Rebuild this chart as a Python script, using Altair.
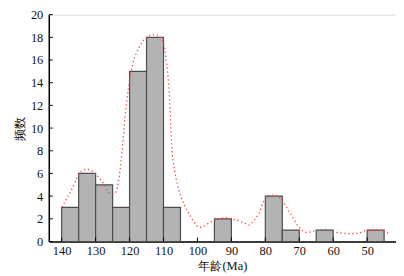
import altair as alt
import pandas as pd

# Histogram bins (Ma) and counts
bin_start = [140, 135, 130, 125, 120, 115, 110, 95, 80, 75, 65, 50]
bin_end = [135, 130, 125, 120, 115, 110, 105, 90, 75, 70, 60, 45]
counts = [3, 6, 5, 3, 15, 18, 3, 2, 4, 1, 1, 1]

# Smoothed curve
curve_x = [140, 138.5, 136.7, 135, 133.5, 132.3, 131, 129.8, 127.4, 125.5, 124.5, 123.3,
           122.2, 121.3, 120.3, 119.1, 117.0, 115.0, 112.8, 110.5, 109.3, 108.3, 107.6,
           106.7, 105.9, 104.4, 102.0, 100.5, 99.5, 98.1, 96.5, 94.6, 91.7, 88.8, 85.8,
           84.9, 83.5, 81.9, 80.5, 78.5, 77.0, 75.1, 72.6, 70.2, 67.8, 65.3, 62.4, 59.0,
           55.5, 52.6, 50.6, 48.8, 46.5, 45.3, 43.8]
curve_y = [3.0, 3.8, 4.8, 5.9, 6.3, 6.35, 6.2, 5.9, 5.0, 4.2, 4.2, 5.2,
           8.0, 11.0, 13.6, 15.6, 17.2, 18.0, 18.25, 17.9, 16.2, 13.0, 8.5,
           6.2, 5.0, 3.6, 2.2, 1.5, 1.25, 1.35, 1.65, 1.9, 2.1, 1.9, 1.6,
           1.45, 1.8, 2.5, 3.5, 4.1, 4.05, 3.6, 2.45, 1.3, 0.8, 0.95, 1.07, 0.81,
           0.7, 0.72, 0.95, 1.02, 1.0, 0.95, 0.72]

x_ticks = [140, 130, 120, 110, 100, 90, 80, 70, 60, 50]
y_ticks = [0, 2, 4, 6, 8, 10, 12, 14, 16, 18, 20]

FONT = "Liberation Serif"
H = 228

bars_df = pd.DataFrame({"start": bin_start, "end": bin_end, "count": counts})
curve_df = pd.DataFrame({"age": curve_x, "freq": curve_y})

xscale = alt.Scale(domain=[143.8, 41.5], nice=False, zero=False)
yscale = alt.Scale(domain=[0, 20], nice=False)

common = dict(grid=False, ticks=False, labelOverlap=False, labelFlush=False,
              domainColor="black", domainWidth=1.5,
              labelFont=FONT, titleFont=FONT, labelFontSize=12.5, titleFontSize=12.5,
              titleFontWeight="normal", labelColor="#111", titleColor="#111")
xaxis = alt.Axis(title="年龄(Ma)", values=x_ticks, labelPadding=3, titlePadding=3, **common)
yaxis = alt.Axis(title="频数", values=y_ticks, labelPadding=6, titlePadding=4, **common)

bars = alt.Chart(bars_df).mark_bar(color="#b3b3b3", stroke="#4d4d4d", strokeWidth=1.2).encode(
    x=alt.X("start:Q", scale=xscale, axis=xaxis),
    x2="end:Q",
    y=alt.Y("count:Q", scale=yscale, axis=yaxis),
    y2=alt.datum(0),
)

curve = alt.Chart(curve_df).mark_line(color="#ff4040", strokeWidth=1.3, strokeDash=[1.3, 2.7],
                                      interpolate="monotone").encode(
    x=alt.X("age:Q", scale=xscale, axis=xaxis),
    y=alt.Y("freq:Q", scale=yscale, axis=yaxis),
    order="age:Q",
)

yt = alt.Chart(pd.DataFrame({"v": y_ticks})).mark_rule(color="black", strokeWidth=1).encode(
    y=alt.Y("v:Q", scale=yscale, axis=yaxis), x=alt.value(0), x2=alt.value(4))
xt = alt.Chart(pd.DataFrame({"v": x_ticks})).mark_rule(color="black", strokeWidth=1).encode(
    x=alt.X("v:Q", scale=xscale, axis=xaxis), y=alt.value(H), y2=alt.value(H - 4))

chart = alt.layer(bars, curve, yt, xt).properties(
    width=349, height=H,
    autosize=alt.AutoSizeParams(type="none"),
    padding={"left": 41, "top": 6, "right": 0, "bottom": 34},
).configure_view(stroke=None).configure(background="white")

chart.save("out.html", embed_options={"renderer": "svg", "actions": False})
